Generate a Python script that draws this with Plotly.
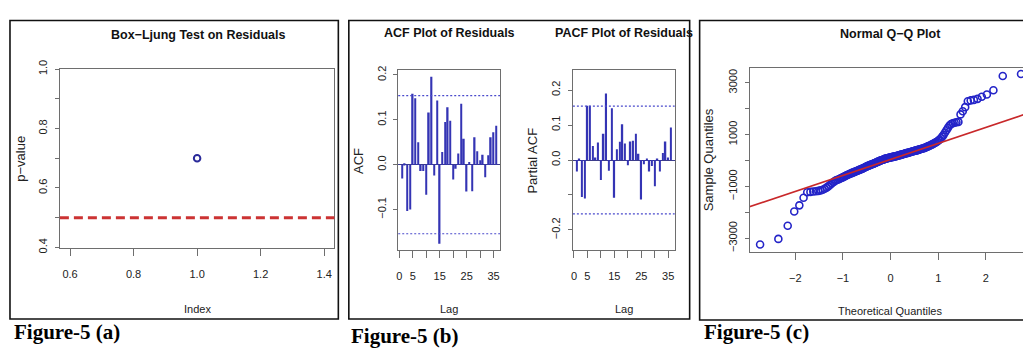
import numpy as np
import plotly.graph_objects as go
from statistics import NormalDist

W, H = 1023, 349

# ---------------- data ----------------
# (a) Box-Ljung test
bl_index = [1.0]
bl_pvalue = [0.70]
bl_threshold = 0.5

# (b) ACF / PACF of residuals
lags = list(range(1, 37))
acf_vals = [-0.031, 0.003, -0.103, -0.100, 0.158, 0.148, 0.050, -0.014, -0.014, -0.067,
            0.116, 0.196, -0.024, 0.143, -0.176, 0.028, 0.095, 0.128, 0.098, -0.033,
            -0.009, 0.025, 0.136, 0.058, -0.060, 0.006, -0.059, 0.061, 0.030, 0.010,
            0.022, -0.028, 0.021, 0.061, 0.072, 0.087]
pacf_vals = [-0.033, 0.002, -0.106, -0.110, 0.155, 0.155, 0.040, 0.007, 0.050, -0.057,
             0.075, 0.190, -0.031, 0.148, -0.108, 0.031, 0.052, 0.102, 0.047, -0.015,
             0.053, 0.055, 0.075, 0.018, -0.113, -0.012, 0.003, -0.033, -0.017, -0.075,
             0.002, -0.033, 0.020, 0.053, 0.007, 0.093]
n_obs = 162

# (c) sorted residuals (sample quantiles)
sample_quantiles = [
    -3250, -3030, -2525, -1970, -1735, -1440, -1230, -1215, -1200, -1190,
    -1175, -1155, -1130, -1095, -1050, -1000, -945, -890, -845, -800,
    -765, -745, -725, -700, -680, -655, -630, -605, -580, -560,
    -540, -522, -505, -488, -470, -455, -440, -425, -410, -395,
    -380, -365, -350, -335, -320, -305, -290, -272, -255, -240,
    -225, -210, -196, -183, -170, -158, -146, -134, -122, -110,
    -96, -82, -68, -54, -40, -28, -16, -4, 8, 20,
    30, 40, 50, 60, 70, 78, 86, 93, 100, 107,
    115, 121, 127, 133, 140, 147, 154, 161, 168, 175,
    183, 191, 199, 207, 215, 224, 233, 242, 251, 260,
    268, 276, 284, 292, 300, 309, 318, 327, 336, 345,
    354, 363, 372, 381, 390, 400, 410, 420, 430, 440,
    450, 460, 473, 486, 500, 517, 535, 553, 571, 590,
    610, 630, 655, 680, 705, 735, 770, 810, 860, 920,
    990, 1080, 1170, 1260, 1350, 1410, 1440, 1460, 1475, 1490,
    1780, 1900, 2060, 2290, 2320, 2340, 2380, 2460, 2550, 2711,
    3266, 3340]

# tick labels
a_xticks = [0.6, 0.8, 1.0, 1.2, 1.4]
a_yticks = [0.4, 0.5, 0.6, 0.7, 0.8, 0.9, 1.0]
a_ytext = ["0.4", "", "0.6", "", "0.8", "", "1.0"]
lag_ticks = [0, 5, 10, 15, 20, 25, 30, 35]
lag_text = ["0", "5", "", "15", "", "25", "", "35"]
acf_yticks = [-0.1, 0.0, 0.1, 0.2]
acf_ytext = ["\u22120.1", "0.0", "0.1", "0.2"]
pacf_yticks = [-0.2, -0.1, 0.0, 0.1, 0.2]
pacf_ytext = ["\u22120.2", "", "0.0", "0.1", "0.2"]
qq_xticks = [-2, -1, 0, 1, 2]
qq_xtext = ["\u22122", "\u22121", "0", "1", "2"]
qq_yticks = [-3000, -2000, -1000, 0, 1000, 2000, 3000]
qq_ytext = ["\u22123000", "", "\u22121000", "", "1000", "", "3000"]

# ---------------- derived ----------------
ci = 1.96 / np.sqrt(n_obs)
nd = NormalDist()
n_s = len(sample_quantiles)
theo = [nd.inv_cdf((i + 0.5) / n_s) for i in range(n_s)]
q1, q3 = np.percentile(sample_quantiles, [25, 75])
t1, t3 = nd.inv_cdf(0.25), nd.inv_cdf(0.75)
slope = (q3 - q1) / (t3 - t1)
intercept = q1 - slope * t1
line_x = [-3.5, 3.5]
line_y = [intercept + slope * v for v in line_x]


def px(x):
    return x / W


def py(y):
    return 1 - y / H


NARROW = "Liberation Sans Narrow, Arial Narrow, Liberation Sans, Arial, sans-serif"
SANS = "Liberation Sans, Arial, sans-serif"
SERIF = "Liberation Serif, Times New Roman, serif"
BOX = "#6e6e6e"
TXT = "#222222"
BLUE = "#3434b4"

fig = go.Figure()
fig.add_trace(go.Scatter(x=bl_index, y=bl_pvalue, mode="markers", xaxis="x", yaxis="y",
                         marker=dict(symbol="circle-open", size=6.5, color="#2a2a9a",
                                     line=dict(width=2)), showlegend=False))
fig.add_trace(go.Bar(x=lags, y=acf_vals, width=0.55, xaxis="x2", yaxis="y2",
                     marker=dict(color=BLUE, line=dict(width=0)), showlegend=False))
fig.add_trace(go.Bar(x=lags, y=pacf_vals, width=0.55, xaxis="x3", yaxis="y3",
                     marker=dict(color=BLUE, line=dict(width=0)), showlegend=False))
fig.add_trace(go.Scatter(x=theo, y=sample_quantiles, mode="markers", xaxis="x4", yaxis="y4",
                         marker=dict(symbol="circle-open", size=7, color="#2424c8",
                                     line=dict(width=1.6)), showlegend=False))
fig.add_trace(go.Scatter(x=line_x, y=line_y, mode="lines", xaxis="x4", yaxis="y4",
                         line=dict(color="#c8282a", width=1.6), showlegend=False))

base = dict(showline=True, linecolor=BOX, linewidth=1, mirror=True, ticks="outside",
            tickcolor=BOX, tickwidth=1, showgrid=False, zeroline=False,
            tickfont=dict(family=NARROW, size=11, color=TXT), tickmode="array")
xb = dict(base, ticklen=7, ticklabelstandoff=9)
yb = dict(base, ticklen=4, tickangle=-90, ticklabelstandoff=3,
          tickfont=dict(family=SANS, size=11, color=TXT))

fig.update_layout(
    width=W, height=H, margin=dict(l=0, r=0, t=0, b=0, pad=0),
    paper_bgcolor="white", plot_bgcolor="white", showlegend=False,
    xaxis=dict(xb, domain=[px(58), px(333)], range=[0.568, 1.432], anchor="y",
               tickvals=a_xticks, ticktext=[f"{v:.1f}" for v in a_xticks]),
    yaxis=dict(yb, domain=[py(249), py(62)], range=[0.398, 1.002], anchor="x",
               tickvals=a_yticks, ticktext=a_ytext),
    xaxis2=dict(xb, domain=[px(397), px(499)], range=[-0.4, 37.4], anchor="y2",
                tickvals=lag_ticks, ticktext=lag_text),
    yaxis2=dict(yb, domain=[py(251), py(64)], range=[-0.190, 0.210], anchor="x2",
                tickvals=acf_yticks, ticktext=acf_ytext,
                zeroline=True, zerolinecolor="#3c3c8c", zerolinewidth=1),
    xaxis3=dict(xb, domain=[px(572), px(674)], range=[-0.4, 37.4], anchor="y3",
                tickvals=lag_ticks, ticktext=lag_text),
    yaxis3=dict(yb, domain=[py(251), py(64)], range=[-0.257, 0.256], anchor="x3",
                tickvals=pacf_yticks, ticktext=pacf_ytext,
                zeroline=True, zerolinecolor="#3c3c8c", zerolinewidth=1),
    xaxis4=dict(xb, domain=[px(749), 1.0], range=[-2.96, 2.78], anchor="y4",
                tickvals=qq_xticks, ticktext=qq_xtext),
    yaxis4=dict(yb, domain=[py(252.7), py(61)], range=[-3520, 3590], anchor="x4",
                tickvals=qq_yticks, ticktext=qq_ytext, mirror=False),
)

shapes = []
# outer panel borders
for (x0, x1, y0, y1) in [(8, 337, 12, 323), (347.5, 689, 12, 323), (699, 1040, 12, 324)]:
    shapes.append(dict(type="rect", xref="paper", yref="paper", x0=px(x0), x1=px(x1),
                       y0=py(y1), y1=py(y0), line=dict(color="#111111", width=1.6)))
# Box-Ljung threshold
shapes.append(dict(type="line", xref="x domain", yref="y", x0=0, x1=1,
                   y0=bl_threshold, y1=bl_threshold,
                   line=dict(color="#cc3333", width=3, dash="9px,5px")))
# confidence bands
for ax in ["2", "3"]:
    for s in (ci, -ci):
        shapes.append(dict(type="line", xref=f"x{ax} domain", yref=f"y{ax}", x0=0, x1=1,
                           y0=s, y1=s, line=dict(color="#4a4acc", width=1.2, dash="2px,2px")))
fig.update_layout(shapes=shapes)

ann = []


def add_text(text, x, y, size, family=NARROW, angle=0, bold=False, color=TXT, xanchor="center"):
    ann.append(dict(text=f"<b>{text}</b>" if bold else text, x=px(x), y=py(y), xref="paper",
                    yref="paper", showarrow=False, textangle=angle, xanchor=xanchor,
                    yanchor="middle", font=dict(family=family, size=size, color=color)))


# titles
add_text("Box\u2212Ljung Test on Residuals", 196, 27, 12.5, bold=True, color="#111")
add_text("ACF Plot of Residuals", 448, 25, 12.5, bold=True, color="#111")
add_text("PACF Plot of Residuals", 623, 25, 12.5, bold=True, color="#111")
add_text("Normal Q\u2212Q Plot", 890, 26, 12.5, bold=True, color="#111")
# axis titles
add_text("Index", 196, 313, 11)
add_text("Lag", 448, 313, 11)
add_text("Lag", 623, 313, 11)
add_text("Theoretical Quantiles", 890, 315, 11)
add_text("p\u2212value", 19, 156, 13, family=SANS, angle=-90)
add_text("ACF", 357, 158, 13, family=SANS, angle=-90)
add_text("Partial ACF", 532, 158, 13, family=SANS, angle=-90)
add_text("Sample Quantiles", 708, 157, 13, family=SANS, angle=-90)
# captions
add_text("Figure-5 (a)", 10, 337, 21, family=SERIF, bold=True, color="#000", xanchor="left")
add_text("Figure-5 (b)", 348, 341, 21, family=SERIF, bold=True, color="#000", xanchor="left")
add_text("Figure-5 (c)", 701, 337, 21, family=SERIF, bold=True, color="#000", xanchor="left")
fig.update_layout(annotations=ann)

fig.write_html("out.html")
